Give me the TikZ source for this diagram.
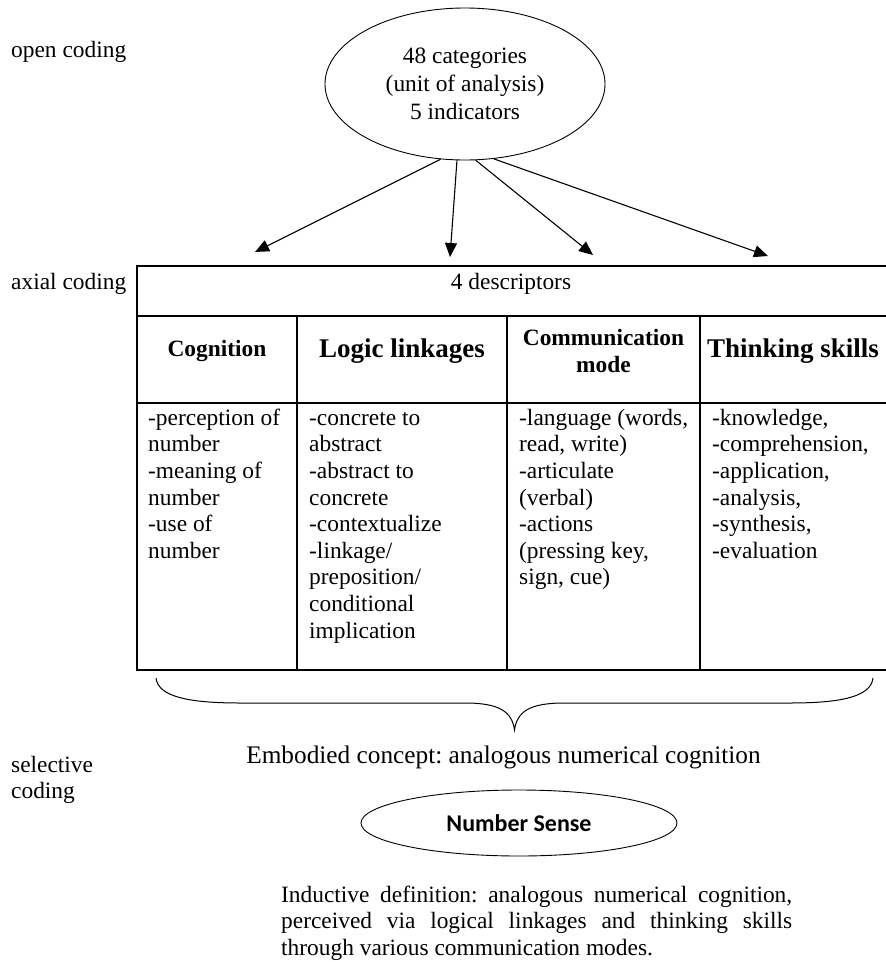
\documentclass[tikz,border=0pt]{standalone}
\usepackage{fontspec}
\setmainfont{Liberation Serif}
\newfontfamily\calibri{Carlito}
\usetikzlibrary{arrows.meta,shapes.geometric}
\frenchspacing

\begin{document}
\begin{tikzpicture}[x=1pt,y=-1pt,
		txt/.style={inner sep=0pt,font=\fontsize{23.4}{26.6}\selectfont},
		hd/.style={txt,align=center,font=\fontsize{23.4}{26.6}\selectfont\bfseries},
		hdbig/.style={hd,font=\fontsize{27}{30}\selectfont\bfseries},
		cell/.style={txt,anchor=north west,align=left},
		oval/.style={draw,ellipse,line width=0.9pt,inner sep=0pt},
		tbl/.style={line width=1.4pt},
		arr/.style={line width=1.1pt,-{Triangle[length=14pt,width=12pt]}}]
	\useasboundingbox (0,0) rectangle (886,962);
	% Levels of coding
	\node[txt,anchor=base west] (open) at (11,57) {open coding};
	\node[txt,anchor=base west] (axial) at (11,289) {axial coding};
	\node[cell] (sel) at (11,753.4) {\strut selective\\coding};
	% Open coding
	\node[oval,minimum width=280,minimum height=152,align=center,
		font=\fontsize{23.4}{28}\selectfont] (cat) at (465,84)
		{48 categories\\(unit of analysis)\\5 indicators};
	\coordinate (t1) at (255,252);
	\coordinate (t2) at (450,257);
	\coordinate (t3) at (593,255);
	\coordinate (t4) at (768,256);
	\draw[arr] (cat.252) -- (t1);
	\draw[arr] (cat.264) -- (t2);
	\draw[arr] (cat.278) -- (t3);
	\draw[arr] (cat.291) -- (t4);
	% Table of descriptors
	\draw[tbl] (886,266) -- (137,266) -- (137,670) -- (886,670);
	\draw[tbl] (137,316) -- (886,316) (137,403) -- (886,403);
	\foreach \x in {297,507,700}
		\draw[tbl] (\x,316) -- (\x,670);
	\node[txt,anchor=base] (desc) at (511,289) {4 descriptors};
	\node[hd] (cog) at (217,351) {Cognition};
	\node[hdbig] (logic) at (402,351) {Logic linkages};
	\node[hd] (comm) at (603.5,351) {Communication\\mode};
	\node[hdbig] (think) at (793,351) {Thinking skills};
	\node[cell] (cogtxt) at (148,406.4)
		{\strut-perception of\\number\\-meaning of\\number\\-use of\\number};
	\node[cell] (logictxt) at (309,406.4)
		{\strut-concrete to\\abstract\\-abstract to\\concrete\\-contextualize\\-linkage/\\preposition/\\conditional\\implication};
	\node[cell] (commtxt) at (519,406.4)
		{\strut-language (words,\\read, write)\\-articulate\\(verbal)\\-actions\\(pressing key,\\sign, cue)};
	\node[cell] (thinktxt) at (712,406.4)
		{\strut-knowledge,\\-comprehension,\\-application,\\-analysis,\\-synthesis,\\-evaluation};
	% Brace
	\draw[line width=1pt] (156,678) .. controls (158,697) and (190,703) .. (240,703)
		-- (465,703) .. controls (500,703) and (512,712) .. (514.5,730)
		.. controls (517,712) and (529,703) .. (564,703)
		-- (790,703) .. controls (840,703) and (871,697) .. (873,678);
	% Selective coding
	\node[txt,anchor=base,font=\fontsize{25.3}{28}\selectfont] (emb) at (503.5,763)
		{Embodied concept: analogous numerical cognition};
	\node[oval,minimum width=316,minimum height=66,
		font=\calibri\fontsize{24}{28}\selectfont\bfseries] (ns) at (519,823) {Number Sense};
	\node[cell,text width=511,align=justify] (ind) at (281,883.4)
		{\hyphenpenalty=10000\strut Inductive definition: analogous numerical cognition,\linebreak
		perceived via logical linkages and thinking skills\linebreak
		through various communication modes.};
\end{tikzpicture}
\end{document}
